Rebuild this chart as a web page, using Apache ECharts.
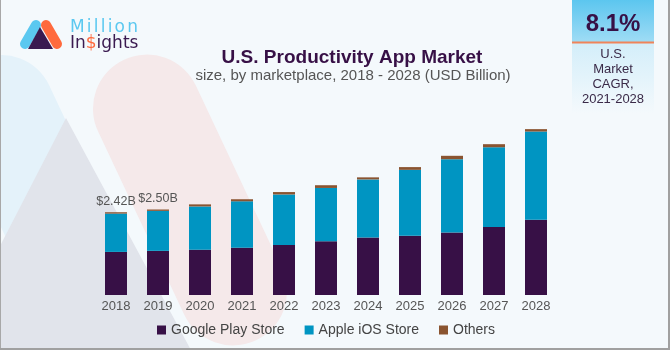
<!DOCTYPE html>
<html>
<head>
<meta charset="utf-8">
<script src="https://cdn.jsdelivr.net/npm/echarts@6/dist/echarts.min.js"></script>
<style>
  html, body { margin: 0; padding: 0; background: #f4f9fc; }
  #chart { width: 670px; height: 350px; }
</style>
</head>
<body>
<div id="chart"></div>
<script>
const years = ['2018', '2019', '2020', '2021', '2022', '2023', '2024', '2025', '2026', '2027', '2028']
const googlePlay = [1.26, 1.29, 1.32, 1.38, 1.46, 1.57, 1.68, 1.73, 1.83, 1.99, 2.20]
const appleIos = [1.12, 1.17, 1.27, 1.36, 1.48, 1.56, 1.70, 1.93, 2.14, 2.33, 2.58]
const others = [0.04, 0.04, 0.06, 0.06, 0.07, 0.08, 0.06, 0.08, 0.10, 0.09, 0.07]
const totalLabels = ['$2.42B', '$2.50B']

const cagrValue = '8.1%'
const cagrText = ['U.S.', 'Market', 'CAGR,', '2021-2028']

const FONT = '"Liberation Sans", Arial, sans-serif'
const LOGO_FONT = '17px "DejaVu Sans", sans-serif'
const PURPLE = '#371046'

const chart = echarts.init(document.getElementById('chart'))

// faded logo shapes in the background
const bgShapes = [
  {
    type: 'rect',
    shape: { x: -52, y: -200, width: 104, height: 400, r: 52 },
    x: 65, y: 241, rotation: 0.44,
    style: { fill: '#e4f2fa' }
  },
  {
    type: 'polygon',
    shape: { points: [[66, 118], [192, 352], [0, 352], [0, 246]] },
    style: { fill: '#e1e4eb' }
  },
  {
    type: 'rect',
    shape: { x: -54, y: -155, width: 108, height: 310, r: 54 },
    x: 190, y: 200, rotation: 0.44,
    style: { fill: '#f5e9ea' }
  }
]

// "Million" is letter-spaced in the logo
const ctx = document.createElement('canvas').getContext('2d')
ctx.font = LOGO_FONT
let lx = 70
const millionLetters = 'Million'.split('').map(ch => {
  const el = {
    type: 'text', x: lx, y: 28,
    style: { text: ch, fill: '#5bc8f0', font: LOGO_FONT, verticalAlign: 'middle' }
  }
  lx += ctx.measureText(ch).width + 2.2
  return el
})

const logo = [
  { type: 'line', shape: { x1: 25, y1: 44, x2: 36, y2: 25 }, style: { stroke: '#5bc8f0', lineWidth: 10, lineCap: 'round' } },
  { type: 'line', shape: { x1: 46, y1: 25, x2: 57, y2: 44 }, style: { stroke: '#ff6a3d', lineWidth: 10, lineCap: 'round' } },
  { type: 'polygon', shape: { points: [[40, 27], [28, 49], [53, 49]] }, style: { fill: '#3a1a50' } },
  ...millionLetters,
  {
    type: 'text', x: 70, y: 44,
    style: {
      text: '{a|In}{b|$}{a|ights}', verticalAlign: 'middle',
      rich: {
        a: { fill: '#3a1a50', font: LOGO_FONT },
        b: { fill: '#ff6a3d', font: LOGO_FONT }
      }
    }
  }
]

const cagrBox = [
  {
    type: 'rect', shape: { x: 572, y: 0, width: 82, height: 42 },
    style: { fill: new echarts.graphic.LinearGradient(0, 0, 0, 1, [
      { offset: 0, color: '#5cc6ef' }, { offset: 1, color: '#9fdcf5' }
    ]) }
  },
  {
    type: 'rect', shape: { x: 572, y: 43, width: 82, height: 70 },
    style: { fill: new echarts.graphic.LinearGradient(0, 0, 0, 1, [
      { offset: 0, color: '#d3eefa' }, { offset: 1, color: '#f4f9fc' }
    ]) }
  },
  { type: 'rect', shape: { x: 572, y: 41.5, width: 82, height: 2 }, style: { fill: '#f0845a' } },
  {
    type: 'text', x: 613, y: 24,
    style: { text: cagrValue, fill: PURPLE, font: 'bold 24px ' + FONT, align: 'center', verticalAlign: 'middle' }
  },
  ...cagrText.map((t, i) => ({
    type: 'text', x: 613, y: 54 + i * 15,
    style: { text: t, fill: '#3a2a48', font: '13px ' + FONT, align: 'center', verticalAlign: 'middle' }
  }))
]

const titles = [
  {
    type: 'text', x: 352, y: 58,
    style: { text: 'U.S. Productivity App Market', fill: PURPLE, font: 'bold 19px ' + FONT, align: 'center', verticalAlign: 'middle' }
  },
  {
    type: 'text', x: 353, y: 76,
    style: { text: 'size, by marketplace, 2018 - 2028 (USD Billion)', fill: '#555', font: '15px ' + FONT, align: 'center', verticalAlign: 'middle' }
  }
]

const frame = [
  { type: 'line', shape: { x1: 0.5, y1: 0, x2: 0.5, y2: 350 }, style: { stroke: '#a8a8a8', lineWidth: 1 } },
  { type: 'line', shape: { x1: 669, y1: 0, x2: 669, y2: 350 }, style: { stroke: '#a0a0a0', lineWidth: 2 } },
  { type: 'line', shape: { x1: 0, y1: 349, x2: 670, y2: 349 }, style: { stroke: '#a0a0a0', lineWidth: 2 } }
]

const option = {
  backgroundColor: '#f4f9fc',
  animation: false,
  textStyle: { fontFamily: FONT },
  graphic: [...bgShapes, ...logo, ...cagrBox, ...titles, ...frame],
  grid: { left: 95, right: 113, top: 124, bottom: 55 },
  legend: {
    bottom: 8,
    left: 152,
    itemWidth: 9,
    itemHeight: 9,
    itemGap: 20,
    icon: 'rect',
    textStyle: { fontSize: 14, color: '#444', fontFamily: FONT },
    data: ['Google Play Store', 'Apple iOS Store', 'Others']
  },
  xAxis: {
    type: 'category',
    data: years,
    axisLine: { show: false },
    axisTick: { show: false },
    axisLabel: { color: '#555', fontSize: 13, margin: 5, fontFamily: FONT }
  },
  yAxis: {
    type: 'value',
    min: 0,
    max: 5,
    show: false,
    splitLine: { show: false }
  },
  series: [
    {
      name: 'Google Play Store', type: 'bar', stack: 'total', barWidth: 22,
      itemStyle: { color: '#371046' },
      data: googlePlay
    },
    {
      name: 'Apple iOS Store', type: 'bar', stack: 'total',
      itemStyle: { color: '#0095c2' },
      data: appleIos
    },
    {
      name: 'Others', type: 'bar', stack: 'total',
      itemStyle: { color: '#8a5430' },
      label: {
        show: true, position: 'top', distance: 4,
        color: '#555', fontSize: 12.5, fontFamily: FONT,
        formatter: p => totalLabels[p.dataIndex] || ''
      },
      data: others
    }
  ]
}

chart.setOption(option)
</script>
</body>
</html>
